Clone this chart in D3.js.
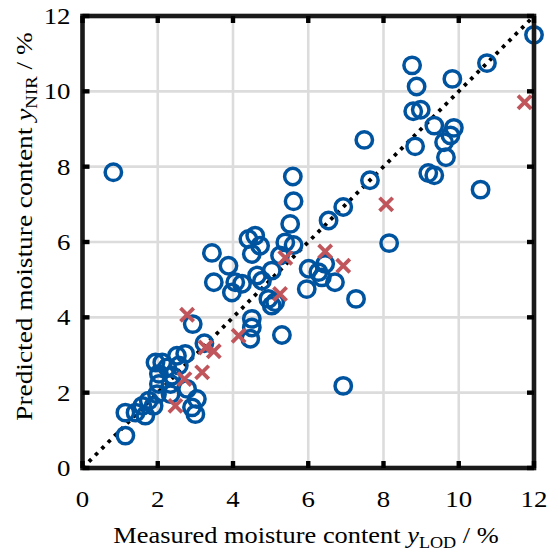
<!DOCTYPE html>
<html>
<head>
<meta charset="utf-8">
<script src="https://cdn.jsdelivr.net/npm/d3@7"></script>
<style>
  body { margin: 0; background: #fff; }
  text { font-family: "Liberation Serif", "Times New Roman", serif; fill: #000; }
</style>
</head>
<body>
<div id="chart"></div>
<script>
// calibration samples (measured LOD vs. predicted NIR), blue circles
const calX = [12.0, 10.75, 8.76, 9.83, 8.88, 8.79, 8.99, 9.35, 9.87, 9.78, 9.61, 8.84, 9.66, 9.19, 9.35, 10.58,
  7.49, 7.64, 6.93, 6.54, 8.15, 0.82, 5.59, 5.61, 5.52, 5.61, 5.39,
  6.01, 6.27, 6.45, 6.36, 6.71, 5.96, 7.27, 6.93, 5.30,
  4.59, 4.41, 4.72, 4.50, 3.44, 3.88, 5.25, 3.49, 4.06, 4.24, 3.97, 4.64, 4.77, 5.03, 4.94, 5.03, 5.12,
  4.50, 4.50, 4.46, 2.93, 3.24,
  1.14, 1.14, 1.41, 1.67, 1.59, 1.76, 1.89, 1.98, 2.34, 1.94, 2.12, 2.03, 2.03, 2.25, 2.38, 2.51, 2.73,
  2.56, 2.34, 2.78, 3.04, 2.91, 3.0];
const calY = [11.5, 10.75, 10.69, 10.33, 10.13, 9.47, 9.51, 9.09, 9.03, 8.83, 8.65, 8.54, 8.25, 7.83, 7.77, 7.39,
  8.71, 7.64, 6.93, 6.57, 5.97, 7.85, 7.74, 7.08, 6.48, 5.92, 5.99,
  5.29, 5.20, 5.42, 5.06, 4.93, 4.75, 4.49, 2.18, 3.53,
  6.17, 6.08, 5.90, 5.68, 5.71, 5.37, 5.64, 4.93, 4.93, 4.89, 4.66, 5.11, 4.97, 5.24, 4.49, 4.31, 4.40,
  3.96, 3.73, 3.43, 3.82, 3.31,
  0.86, 1.47, 1.47, 1.39, 1.65, 1.79, 1.65, 1.96, 1.96, 2.80, 2.80, 2.50, 2.23, 2.67, 2.45, 2.98, 3.03,
  2.72, 2.23, 2.10, 1.83, 1.61, 1.43];

// validation samples, red crosses
const valX = [2.47, 2.71, 3.18, 3.27, 3.49, 2.78, 4.15, 5.25, 5.39, 6.45, 6.93, 8.07, 11.75];
const valY = [1.65, 2.36, 2.54, 3.20, 3.10, 4.07, 3.51, 4.62, 5.58, 5.75, 5.37, 7.00, 9.71];

const ticks = [0, 2, 4, 6, 8, 10, 12];

const width = 548, height = 551;
const blue = '#00549f', red = '#c0565c';

const x = d3.scaleLinear().domain([0, 12]).range([82.5, 534]);
const y = d3.scaleLinear().domain([0, 12]).range([468, 16]);

const svg = d3.select('#chart').append('svg')
  .attr('width', width)
  .attr('height', height);

// grid
svg.append('g').selectAll('line').data(ticks.slice(1, -1)).enter().append('line')
  .attr('x1', d => x(d)).attr('x2', d => x(d))
  .attr('y1', y(0)).attr('y2', y(12))
  .attr('stroke', '#dcdcdc').attr('stroke-width', 2.6);
svg.append('g').selectAll('line').data(ticks.slice(1, -1)).enter().append('line')
  .attr('y1', d => y(d)).attr('y2', d => y(d))
  .attr('x1', x(0)).attr('x2', x(12))
  .attr('stroke', '#dcdcdc').attr('stroke-width', 2.6);

// 1:1 line
svg.append('line')
  .attr('x1', x(0)).attr('y1', y(0))
  .attr('x2', x(12)).attr('y2', y(12))
  .attr('stroke', '#000').attr('stroke-width', 3.8)
  .attr('stroke-dasharray', '3.6,5.4');

// circles
svg.append('g').selectAll('circle').data(calX).enter().append('circle')
  .attr('cx', d => x(d))
  .attr('cy', (d, i) => y(calY[i]))
  .attr('r', 8.2)
  .attr('fill', 'none')
  .attr('stroke', blue)
  .attr('stroke-width', 3.5);

// crosses
const s = 6.6;
svg.append('g').selectAll('path').data(valX).enter().append('path')
  .attr('d', (d, i) => {
    const cx = x(d), cy = y(valY[i]);
    return `M${cx - s},${cy - s}L${cx + s},${cy + s}M${cx - s},${cy + s}L${cx + s},${cy - s}`;
  })
  .attr('stroke', red)
  .attr('stroke-width', 3.8)
  .attr('fill', 'none');

// frame
svg.append('rect')
  .attr('x', x(0)).attr('y', y(12))
  .attr('width', x(12) - x(0)).attr('height', y(0) - y(12))
  .attr('fill', 'none').attr('stroke', '#1a1a1a').attr('stroke-width', 4.6);

// ticks (inward on all four sides)
const tl = 7;
const tk = svg.append('g').attr('stroke', '#000').attr('stroke-width', 4.4);
ticks.forEach(t => {
  tk.append('line').attr('x1', x(t)).attr('x2', x(t)).attr('y1', y(0)).attr('y2', y(0) - tl);
  tk.append('line').attr('x1', x(t)).attr('x2', x(t)).attr('y1', y(12)).attr('y2', y(12) + tl);
  tk.append('line').attr('y1', y(t)).attr('y2', y(t)).attr('x1', x(0)).attr('x2', x(0) + tl);
  tk.append('line').attr('y1', y(t)).attr('y2', y(t)).attr('x1', x(12)).attr('x2', x(12) - tl);
});

// tick labels (glyphs in the original are wider than Liberation Serif)
svg.append('g').selectAll('text').data(ticks).enter().append('text')
  .attr('transform', d => `translate(${x(d)},506.5) scale(1.12,1)`)
  .attr('text-anchor', 'middle')
  .style('font-size', '24px')
  .text(d => d);
svg.append('g').selectAll('text').data(ticks).enter().append('text')
  .attr('transform', d => `translate(70.5,${y(d)}) scale(1.12,1)`)
  .attr('dy', '0.33em')
  .attr('text-anchor', 'end')
  .style('font-size', '24px')
  .text(d => d);

// axis labels
function label(g, main, sub, sx) {
  const t = g.append('text').attr('text-anchor', 'middle')
    .attr('transform', `scale(${sx},1)`)
    .style('font-size', '24px');
  t.append('tspan').text(main + ' ');
  t.append('tspan').style('font-style', 'italic').text('y');
  t.append('tspan').attr('dy', 5).style('font-size', '16.5px').text(sub);
  t.append('tspan').attr('dy', -5).text(' / %');
  return t;
}
label(svg.append('g').attr('transform', 'translate(306,543)'), 'Measured moisture content', 'LOD', 1.1);
label(svg.append('g').attr('transform', 'translate(32,226.5) rotate(-90)'), 'Predicted moisture content', 'NIR', 1.14);
</script>
</body>
</html>
